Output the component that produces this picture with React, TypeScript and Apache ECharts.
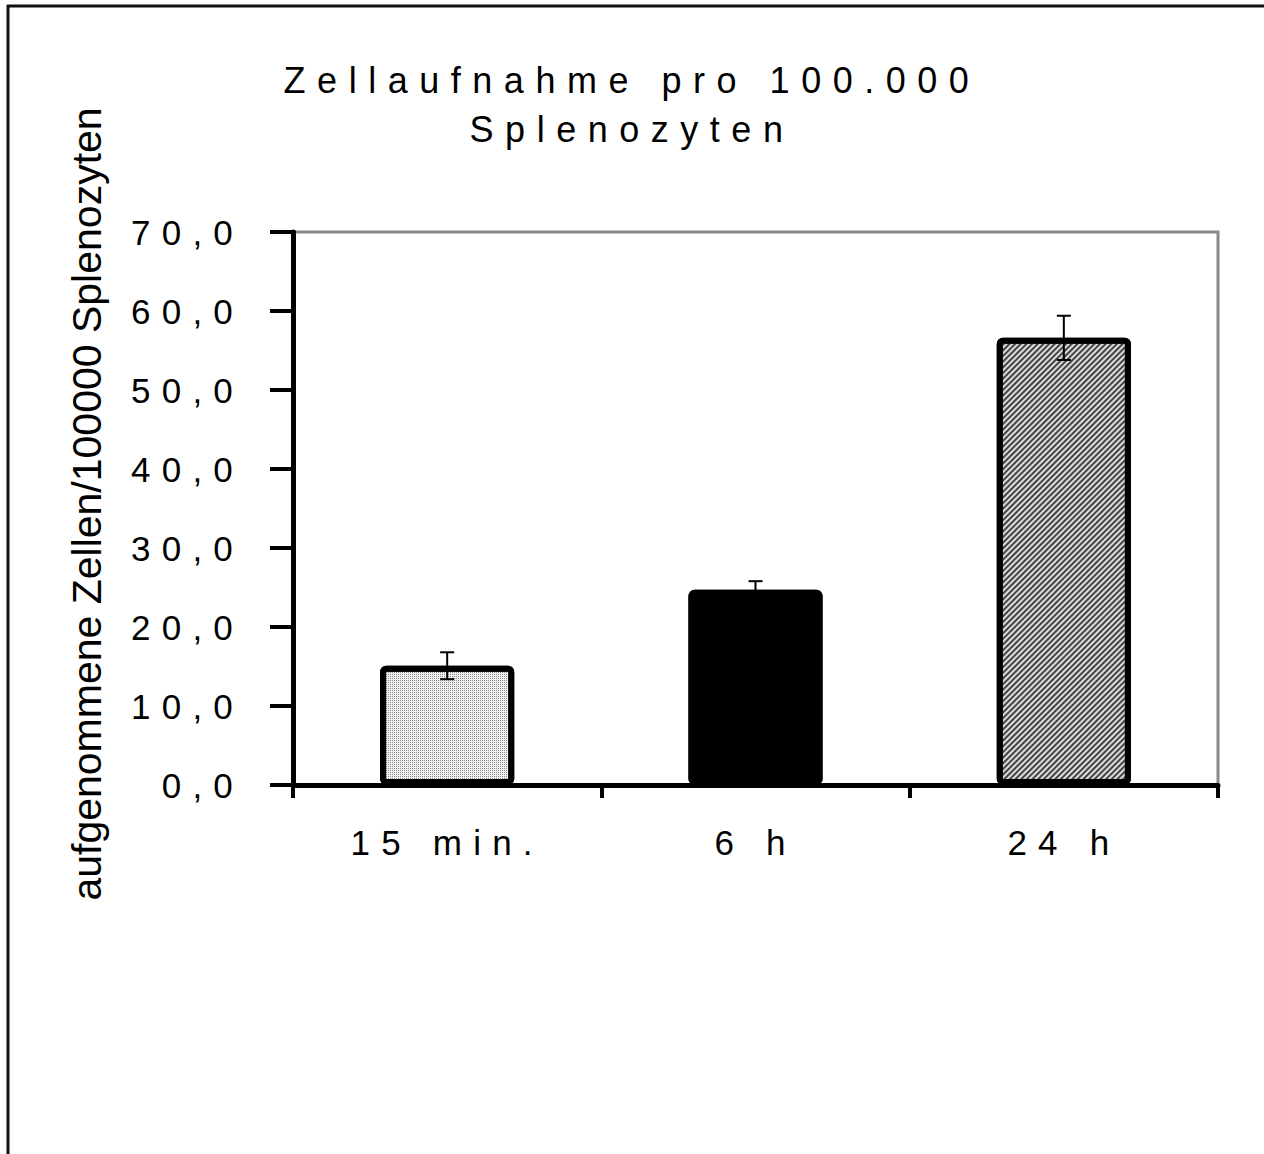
import React, { useEffect, useRef } from "react";
import * as echarts from "echarts";

const categories = ["15 min.", "6 h", "24 h"];
const values = [15.1, 24.7, 56.6];
const errors = [1.7, 1.1, 2.8];
const yTicks = [0, 10, 20, 30, 40, 50, 60, 70];
const titleLines = ["Zellaufnahme pro 100.000", "Splenozyten"];
const yAxisTitle = "aufgenommene Zellen/100000 Splenozyten";

export default function App() {
  const ref = useRef<HTMLDivElement>(null);
  useEffect(() => {
    if (!ref.current) return;
    const chart = echarts.init(ref.current, null, { renderer: "svg" });
    const decals = [
      { symbol: "rect", symbolSize: 1, dashArrayX: [1, 1], dashArrayY: [1, 1], color: "#8a8a8a" },
      { symbol: "none" },
      { symbol: "rect", symbolSize: 1, dashArrayX: [1, 0], dashArrayY: [2, 2], rotation: -Math.PI / 4, color: "#444444" },
    ];
    const fills = ["#f0f0f0", "#000000", "#dcdcdc"];
    chart.setOption({
      animation: false,
      aria: { enabled: true, decal: { show: true } },
      backgroundColor: "#ffffff",
      title: {
        text: titleLines.join("\n"),
        left: "center",
        top: 56,
        padding: 0,
        textStyle: {
          fontFamily: "Arial",
          fontSize: 36,
          fontWeight: "normal",
          color: "#000",
          lineHeight: 49,
        },
      },
      grid: {
        left: 293,
        right: 46,
        top: 232,
        bottom: 369,
        show: true,
        borderColor: "#888888",
        borderWidth: 3,
        backgroundColor: "transparent",
      },
      xAxis: {
        type: "category",
        data: categories,
        axisLine: { show: true, lineStyle: { color: "#000", width: 5 } },
        axisTick: { show: true, length: 13, inside: false, alignWithLabel: false, lineStyle: { color: "#000", width: 4 } },
        axisLabel: { fontFamily: "Arial", fontSize: 35, color: "#000", margin: 40 },
        splitLine: { show: false },
      },
      yAxis: {
        type: "value",
        min: yTicks[0],
        max: yTicks[yTicks.length - 1],
        interval: 10,
        axisLine: { show: true, lineStyle: { color: "#000", width: 5 } },
        axisTick: { show: true, length: 23, lineStyle: { color: "#000", width: 4 } },
        axisLabel: {
          fontFamily: "Arial",
          fontSize: 35,
          color: "#000",
          margin: 49,
          formatter: (v: number) => v.toFixed(1).replace(".", ","),
        },
        splitLine: { show: false },
      },
      graphic: [
        { type: "line", shape: { x1: 7, y1: 6, x2: 1264, y2: 6 }, style: { stroke: "#111", lineWidth: 3 } },
        { type: "line", shape: { x1: 8, y1: 5, x2: 8, y2: 1154 }, style: { stroke: "#111", lineWidth: 3 } },
        {
          type: "text",
          x: 87,
          y: 504,
          rotation: Math.PI / 2,
          style: {
            text: yAxisTitle,
            fontFamily: "Liberation Sans",
            fontSize: 41,
            fill: "#000",
            textAlign: "center",
            textVerticalAlign: "middle",
          },
        },
      ],
      series: [
        {
          type: "bar",
          barWidth: "43.5%",
          data: values.map((v, i) => ({
            value: v,
            itemStyle: {
              color: fills[i],
              borderColor: "#000",
              borderWidth: 6,
              borderRadius: 3,
              decal: decals[i],
            },
          })),
          z: 2,
        },
        {
          type: "custom",
          z: 5,
          data: values.map((v, i) => [i, v, errors[i]]),
          encode: { x: 0, y: 1 },
          renderItem: (params: any, api: any) => {
            const i = api.value(0);
            const v = api.value(1);
            const e = api.value(2);
            const top = api.coord([i, v + e]);
            const bot = api.coord([i, v - e]);
            const hw = 7;
            const st = { stroke: "#000", lineWidth: 2 };
            return {
              type: "group",
              children: [
                { type: "line", shape: { x1: top[0], y1: top[1], x2: bot[0], y2: bot[1] }, style: st },
                { type: "line", shape: { x1: top[0] - hw, y1: top[1], x2: top[0] + hw, y2: top[1] }, style: st },
                { type: "line", shape: { x1: bot[0] - hw, y1: bot[1], x2: bot[0] + hw, y2: bot[1] }, style: st },
              ],
            };
          },
        },
      ],
    });
    return () => chart.dispose();
  }, []);
  return (
    <>
      <style>{`
        .chart-root svg text[style*="Arial"], .chart-root svg text[font-family*="Arial"] { letter-spacing: 0.32em; }
      `}</style>
      <div
        ref={ref}
        className="chart-root"
        style={{ position: "fixed", left: 0, top: 0, width: 1264, height: 1154 }}
      />
    </>
  );
}
